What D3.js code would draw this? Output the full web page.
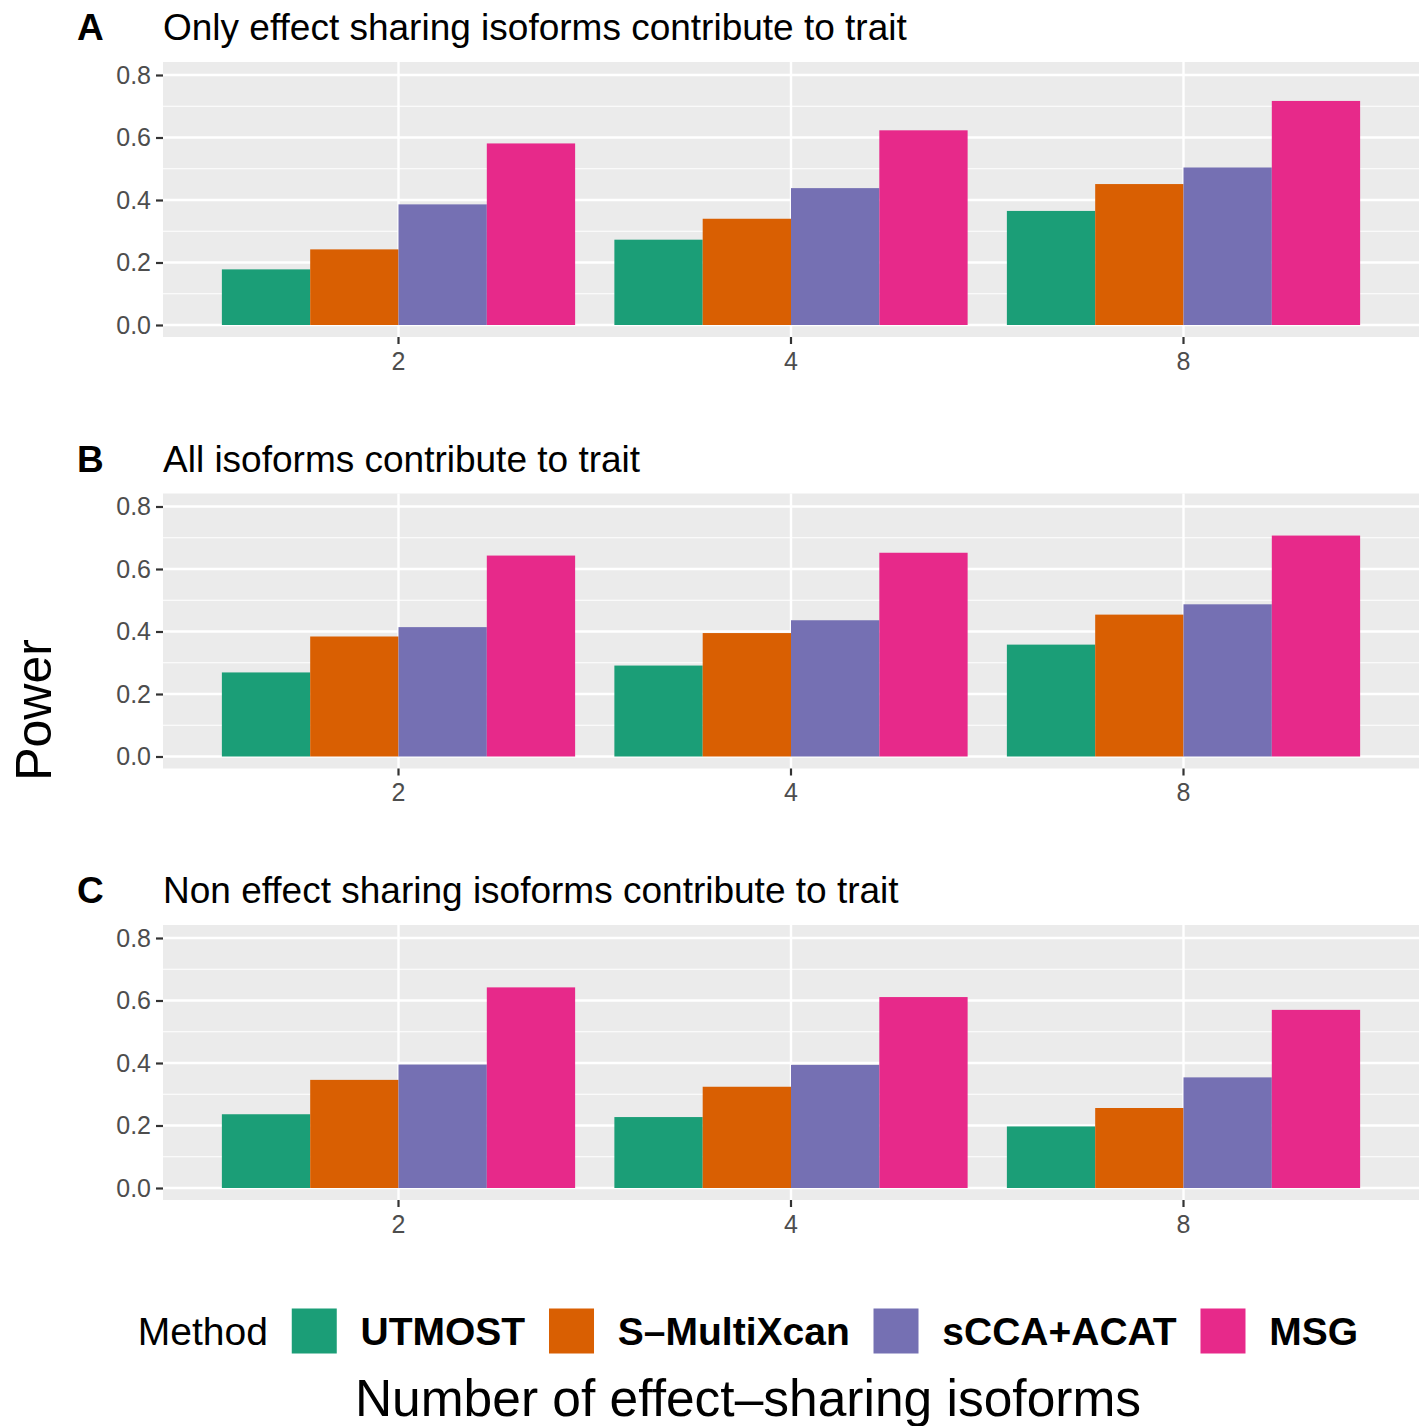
<!DOCTYPE html>
<html>
<head>
<meta charset="utf-8">
<script src="https://cdn.jsdelivr.net/npm/d3@7"></script>
<style>
  body { margin: 0; background: #ffffff; }
  text { font-family: "Liberation Sans", Arial, Helvetica, sans-serif; }
</style>
</head>
<body>
<div id="chart-area"></div>
<script>
//============================DATA============================
var isoformCounts = ["2", "4", "8"];
var methods = ["UTMOST", "S\u2013MultiXcan", "sCCA+ACAT", "MSG"];
var methodColors = ["#1B9E77", "#D95F02", "#7570B3", "#E7298A"];
var panelLetters = ["A", "B", "C"];
var panelTitles = [
    "Only effect sharing isoforms contribute to trait",
    "All isoforms contribute to trait",
    "Non effect sharing isoforms contribute to trait"
];
var yTicks = [0, 0.2, 0.4, 0.6, 0.8];
var yMinorTicks = [0.1, 0.3, 0.5, 0.7];

// power per isoform count (rows) for each method (columns)
var powerA = [
    [0.178, 0.242, 0.386, 0.581],
    [0.273, 0.340, 0.438, 0.623],
    [0.365, 0.451, 0.504, 0.717]
];
var powerB = [
    [0.269, 0.384, 0.414, 0.643],
    [0.291, 0.395, 0.436, 0.652],
    [0.358, 0.454, 0.487, 0.707]
];
var powerC = [
    [0.236, 0.346, 0.395, 0.642],
    [0.227, 0.324, 0.394, 0.611],
    [0.197, 0.256, 0.354, 0.570]
];
var panelData = [powerA, powerB, powerC];

//============================LAYOUT============================
var W = 1426, H = 1426;
var plotLeft = 163, plotRight = 1419;
var panelTop0 = 62, panelHeight = 275, panelPitch = 431.5;

var svg = d3.select("#chart-area")
    .append("svg")
    .attr("width", W)
    .attr("height", H);

// shared x scales
var x = d3.scaleBand()
    .domain(isoformCounts)
    .range([plotLeft, plotRight])
    .paddingInner(0)
    .paddingOuter(0.1);

var xInner = d3.scaleBand()
    .domain(methods)
    .range([x.bandwidth() * 0.05, x.bandwidth() * 0.95]);

var color = d3.scaleOrdinal().domain(methods).range(methodColors);

panelData.forEach(function(rows, p) {
    var top = panelTop0 + p * panelPitch;
    var g = svg.append("g").attr("class", "panel");

    var y = d3.scaleLinear()
        .domain([-0.0384, 0.8416])
        .range([top + panelHeight, top]);

    // background
    g.append("rect")
        .attr("x", plotLeft).attr("y", top)
        .attr("width", plotRight - plotLeft).attr("height", panelHeight)
        .attr("fill", "#EBEBEB");

    // minor gridlines
    g.selectAll(".minor").data(yMinorTicks).enter()
        .append("line")
        .attr("x1", plotLeft).attr("x2", plotRight)
        .attr("y1", function(d){ return y(d); })
        .attr("y2", function(d){ return y(d); })
        .attr("stroke", "#ffffff").attr("stroke-width", 1.2);

    // major gridlines
    g.selectAll(".major").data(yTicks).enter()
        .append("line")
        .attr("x1", plotLeft).attr("x2", plotRight)
        .attr("y1", function(d){ return y(d); })
        .attr("y2", function(d){ return y(d); })
        .attr("stroke", "#ffffff").attr("stroke-width", 2.4);

    g.selectAll(".vmajor").data(isoformCounts).enter()
        .append("line")
        .attr("x1", function(d){ return x(d) + x.bandwidth() / 2; })
        .attr("x2", function(d){ return x(d) + x.bandwidth() / 2; })
        .attr("y1", top).attr("y2", top + panelHeight)
        .attr("stroke", "#ffffff").attr("stroke-width", 2.4);

    // bars
    rows.forEach(function(vals, i) {
        var cat = isoformCounts[i];
        g.selectAll(".bar" + i).data(vals).enter()
            .append("rect")
            .attr("x", function(d, j){ return x(cat) + xInner(methods[j]); })
            .attr("y", function(d){ return y(d); })
            .attr("width", xInner.bandwidth())
            .attr("height", function(d){ return y(0) - y(d); })
            .attr("fill", function(d, j){ return color(methods[j]); });
    });

    // y axis
    var yAxis = g.append("g")
        .attr("transform", "translate(" + plotLeft + ",0)")
        .call(d3.axisLeft(y).tickValues(yTicks).tickFormat(d3.format(".1f")).tickSize(7).tickPadding(5));
    yAxis.select(".domain").remove();
    yAxis.selectAll("line").attr("stroke", "#333333").attr("stroke-width", 2.2);
    yAxis.selectAll("text")
        .attr("fill", "#4D4D4D")
        .attr("font-size", "25px")
        .attr("font-family", "'Liberation Sans', Arial, sans-serif");

    // x axis
    var xAxis = g.append("g")
        .attr("transform", "translate(0," + (top + panelHeight) + ")")
        .call(d3.axisBottom(x).tickSize(7).tickPadding(8));
    xAxis.select(".domain").remove();
    xAxis.selectAll("line").attr("stroke", "#333333").attr("stroke-width", 2.2);
    xAxis.selectAll("text")
        .attr("fill", "#4D4D4D")
        .attr("font-size", "25px")
        .attr("font-family", "'Liberation Sans', Arial, sans-serif");

    // panel letter and title
    g.append("text")
        .attr("x", 77).attr("y", top - 22)
        .attr("font-size", "37px")
        .attr("font-weight", "bold")
        .attr("fill", "#000")
        .text(panelLetters[p]);

    g.append("text")
        .attr("x", plotLeft).attr("y", top - 22)
        .attr("font-size", "37px")
        .attr("fill", "#000")
        .text(panelTitles[p]);
});

// y axis title
svg.append("text")
    .attr("transform", "translate(51,710) rotate(-90)")
    .attr("text-anchor", "middle")
    .attr("font-size", "50px")
    .attr("fill", "#000")
    .text("Power");

// legend
var legendCenter = 748, legendY = 1331, keySize = 45;
var legend = svg.append("g").attr("class", "legend");
var items = [];
var lt = legend.append("text")
    .attr("y", legendY).attr("dy", "0.35em")
    .attr("font-size", "39px").attr("fill", "#000")
    .text("Method");
items.push({ node: lt, w: lt.node().getComputedTextLength(), type: "title" });
methods.forEach(function(m) {
    var r = legend.append("rect")
        .attr("y", legendY - keySize / 2)
        .attr("width", keySize).attr("height", keySize)
        .attr("fill", color(m));
    items.push({ node: r, w: keySize, type: "key" });
    var t = legend.append("text")
        .attr("y", legendY).attr("dy", "0.35em")
        .attr("font-size", "39px").attr("font-weight", "bold").attr("fill", "#000")
        .text(m);
    items.push({ node: t, w: t.node().getComputedTextLength(), type: "label" });
});
var gap = 23.8;
var total = d3.sum(items, function(d){ return d.w; }) + gap * (items.length - 1);
var cx = legendCenter - total / 2;
items.forEach(function(it) {
    it.node.attr("x", cx);
    cx += it.w + gap;
});

// x axis title
svg.append("text")
    .attr("x", legendCenter).attr("y", 1416)
    .attr("text-anchor", "middle")
    .attr("font-size", "51.5px")
    .attr("fill", "#000")
    .text("Number of effect\u2013sharing isoforms");
</script>
</body>
</html>
